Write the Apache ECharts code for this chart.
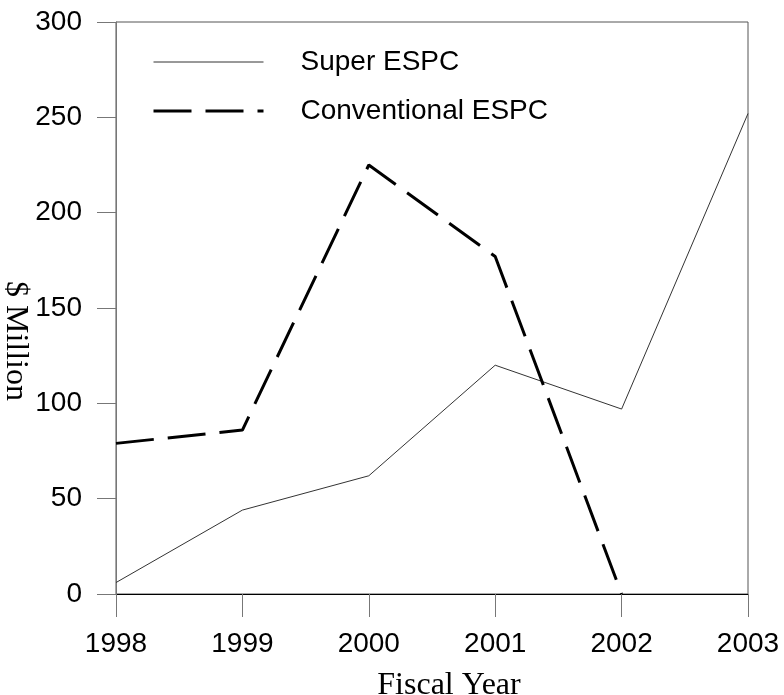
<!DOCTYPE html>
<html>
<head>
<meta charset="utf-8">
<script src="https://cdn.jsdelivr.net/npm/echarts@6/dist/echarts.min.js"></script>
<style>html,body{margin:0;padding:0;background:#fff}#c{width:784px;height:695px}</style>
</head>
<body>
<div id="c"></div>
<script>
const years = [1998, 1999, 2000, 2001, 2002, 2003];
const superESPC = [6, 44, 62, 120, 97, 252];
const conventionalESPC = [79, 86, 225, 177, 0];
const seriesNames = ['Super ESPC', 'Conventional ESPC'];
const yTicks = [0, 50, 100, 150, 200, 250, 300];

const chart = echarts.init(document.getElementById('c'), null, {renderer: 'canvas'});
const sans = 'Liberation Sans, Arial, sans-serif';
const serif = 'Liberation Serif, Times New Roman, serif';

chart.setOption({
  animation: false,
  backgroundColor: '#fff',
  grid: {left: 116, right: 36, top: 22, bottom: 101, show: true, borderColor: '#555', borderWidth: 1,
    containLabel: false, outerBoundsMode: 'none'},
  legend: {
    orient: 'vertical', left: 152, top: 48, padding: 0,
    itemWidth: 110, itemHeight: 14, itemGap: 21,
    data: [
      {name: seriesNames[0], lineStyle: {width: 1}},
      {name: seriesNames[1], lineStyle: {width: 3}}
    ],
    itemStyle: {opacity: 0, borderWidth: 0},
    textStyle: {fontFamily: sans, fontSize: 28, color: '#000', padding: [0, 0, 0, 32]}
  },
  xAxis: {
    type: 'value', min: years[0], max: years[years.length - 1], interval: 1,
    name: 'Fiscal Year', nameLocation: 'middle', nameGap: 76,
    nameTextStyle: {fontFamily: serif, fontSize: 32, color: '#000', padding: [0, 0, 0, 34]},
    axisLine: {lineStyle: {color: '#000', width: 1}},
    axisTick: {show: true, inside: false, length: 23, lineStyle: {color: '#777'}},
    axisLabel: {fontFamily: sans, fontSize: 28, color: '#000', margin: 36, formatter: v => String(v)},
    splitLine: {show: false}
  },
  yAxis: {
    type: 'value', min: 0, max: 300, interval: 50,
    name: '$ Million', nameLocation: 'middle', nameGap: 85, nameRotate: -90,
    nameMoveOverlap: false,
    nameTextStyle: {fontFamily: serif, fontSize: 32, color: '#000', padding: [0, 0, 0, 66]},
    axisLine: {show: true, lineStyle: {color: '#777', width: 1}},
    axisTick: {show: true, inside: false, length: 19, lineStyle: {color: '#777'}},
    axisLabel: {fontFamily: sans, fontSize: 28, color: '#000', margin: 34,
      formatter: v => yTicks.indexOf(v) >= 0 ? String(v) : ''},
    splitLine: {show: false}
  },
  series: [
    {
      name: seriesNames[0], type: 'line', symbol: 'none',
      data: years.map((y, i) => [y, superESPC[i]]),
      lineStyle: {color: '#333', width: 1},
      itemStyle: {color: '#333'}
    },
    {
      name: seriesNames[1], type: 'line', symbol: 'none',
      data: conventionalESPC.map((v, i) => [years[i], v]),
      lineStyle: {color: '#000', width: 3, type: [38, 14]},
      itemStyle: {color: '#000'}
    }
  ]
});
</script>
</body>
</html>
